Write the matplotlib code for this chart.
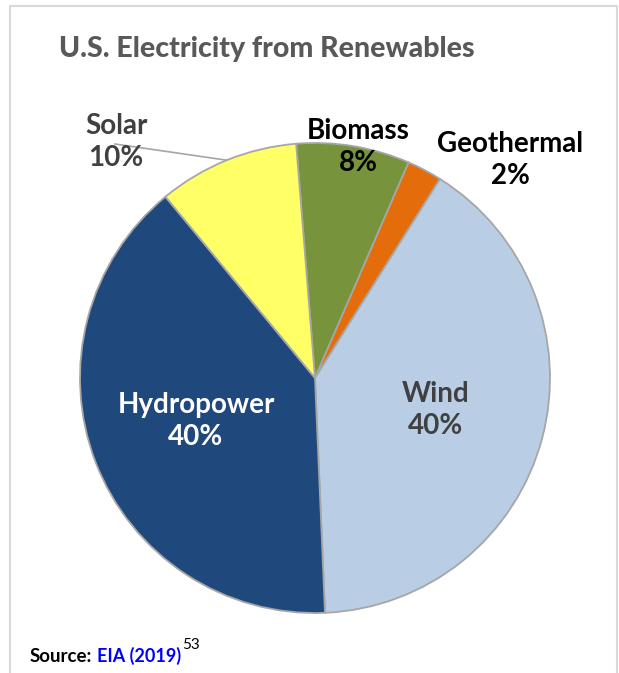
import matplotlib
matplotlib.use("Agg")
import matplotlib.pyplot as plt
from matplotlib.patches import Rectangle
import numpy as np

# slice order: clockwise from the top
labels = ["Biomass", "Geothermal", "Wind", "Hydropower", "Solar"]
shares = [7.8, 2.4, 40.4, 39.7, 9.7]
colors = ["#77933C", "#E46C0A", "#B9CDE5", "#1F497D", "#FFFF66"]
text_colors = ["black", "black", "#404040", "white", "#404040"]
title = "U.S. Electricity from Renewables"

W, H = 619, 673
plt.rcParams["font.family"] = ["Lato", "DejaVu Sans"]
fig = plt.figure(figsize=(W / 100, H / 100), dpi=100)
ax = fig.add_axes([0, 0, 1, 1])

cx, cy, r = 315, H - 378, 235
wedges, _ = ax.pie(shares, colors=colors, startangle=94.6, counterclock=False,
                   center=(cx, cy), radius=r,
                   wedgeprops=dict(edgecolor="#A6A6A6", linewidth=1.3))
ax.set_xlim(0, W)
ax.set_ylim(0, H)
ax.set_aspect("equal")
ax.axis("off")

# outer frame
fig.patches.append(Rectangle((10 / W, -0.1), 607 / W, 1.1 - 6 / H,
                             transform=fig.transFigure, fill=False,
                             edgecolor="#D9D9D9", linewidth=1.5))

ax.text(267, H - 49, title, ha="center", va="center", fontsize=20.5,
        fontweight="black", color="#595959")

# label positions (pixel coords from top-left)
pos = {"Biomass": (358, 147), "Geothermal": (510, 160), "Wind": (436, 410),
       "Hydropower": (196, 421), "Solar": (116, 142)}
for lab, val, tc in zip(labels, shares, text_colors):
    x, y = pos[lab]
    ax.text(x, H - y, f"{lab}\n{round(val):.0f}%", ha="center", va="center",
            fontsize=20, fontweight="bold", color=tc, linespacing=1.3)

# leader line for Solar
w = wedges[labels.index("Solar")]
mid = np.deg2rad((w.theta1 + w.theta2) / 2)
ax.plot([115, cx + r * np.cos(mid)], [H - 144, cy + r * np.sin(mid)],
        color="#A6A6A6", lw=1.2)

# source line
fig.canvas.draw()
rend = fig.canvas.get_renderer()
t1 = fig.text(30 / W, 1 - 662 / H, "Source:", fontsize=13.5, fontweight="bold",
              color="black")
x1 = t1.get_window_extent(rend).x1
t2 = fig.text((x1 + 5) / W, 1 - 662 / H, "EIA (2019)", fontsize=13,
              fontweight="bold", color="#0000FF")
x2 = t2.get_window_extent(rend).x1
fig.text((x2 + 1) / W, 1 - 649 / H, "53", fontsize=11, color="black")

fig.savefig("out.png", dpi=100)
